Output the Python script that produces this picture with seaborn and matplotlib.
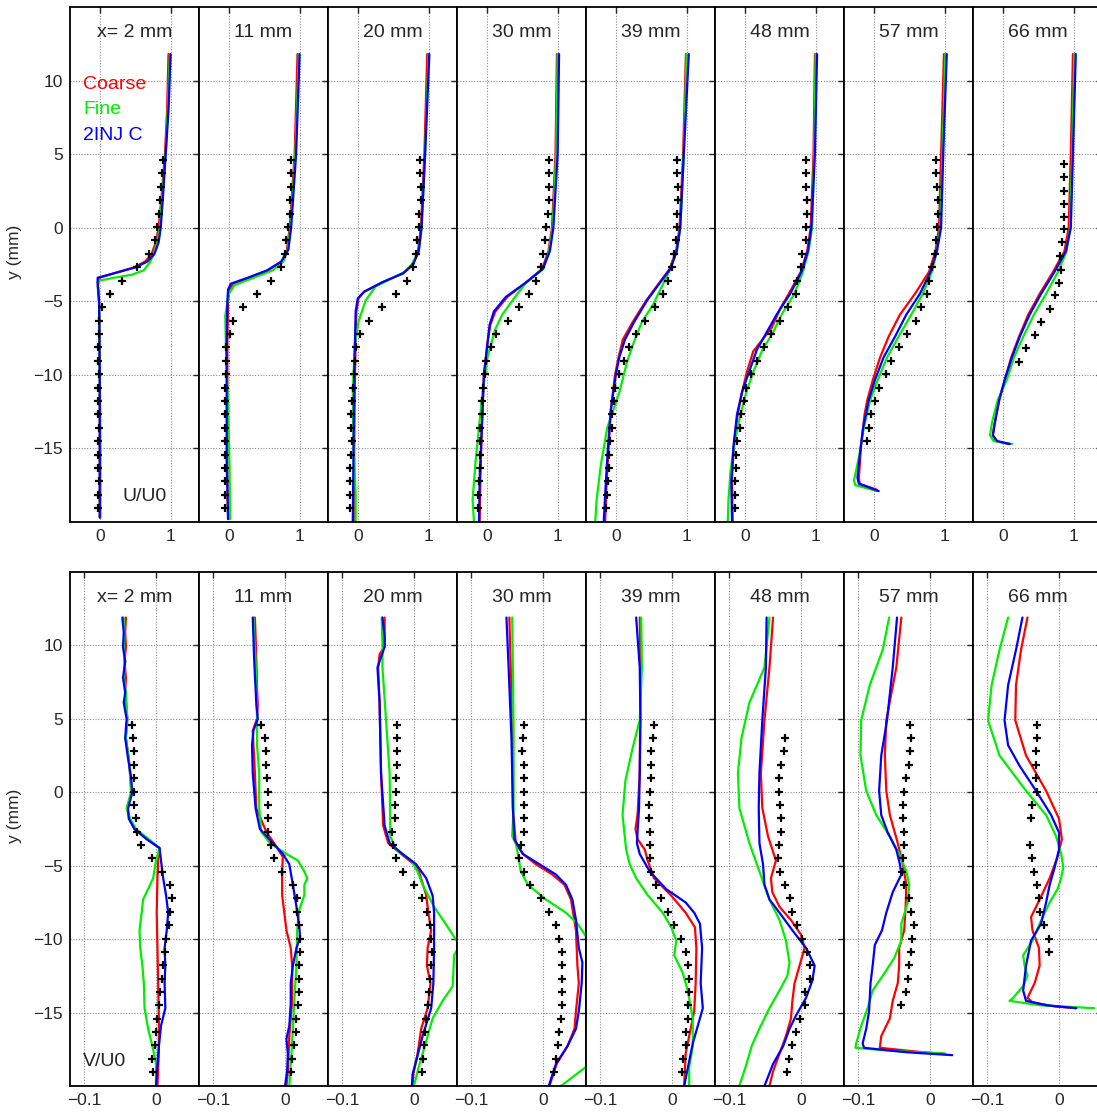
import matplotlib
matplotlib.use('Agg')
import matplotlib.pyplot as plt
import pandas as pd
import seaborn as sns

# Stations (panel titles)
TITLES = ['x= 2 mm', '11 mm', '20 mm', '30 mm', '39 mm', '48 mm', '57 mm', '66 mm']
MODELS = ['Coarse', 'Fine', '2INJ C']
COLORS = {'Coarse': '#ff0000', 'Fine': '#00ee00', '2INJ C': '#0000ff'}

Y_TICKS = [-15, -10, -5, 0, 5, 10]
Y_TICKLABELS = ['\u221215', '\u221210', '\u22125', '0', '5', '10']
U_TICKS = [0, 1]
U_TICKLABELS = ['0', '1']
V_TICKS = [-0.1, 0]
V_TICKLABELS = ['\u22120.1', '0']

# probe positions of the measurements (mm)
Y_PROBE = [4.6, 3.69, 2.78, 1.87, 0.96, 0.05, -0.86, -1.77, -2.68, -3.59, -4.5,
           -5.41, -6.32, -7.23, -8.14, -9.05, -9.96, -10.87, -11.78, -12.69,
           -13.6, -14.51, -15.42, -16.33, -17.24, -18.15, -19.06]
Y_PROBE_66U = [4.35, 3.45, 2.5, 1.6, 0.7, -0.1, -1.0, -1.95, -2.85, -3.75, -4.6,
               -5.5, -6.4, -7.3, -8.15, -9.1]
Y_PROBE_66V = [4.6, 3.69, 2.78, 1.87, 0.96, 0.05, -0.86, -1.77, -3.59, -4.5,
               -5.41, -6.32, -7.23, -8.14, -9.05, -9.96, -10.87]

# measured U/U0
U_EXP = [
    [0.89, 0.88, 0.87, 0.85, 0.84, 0.81, 0.78, 0.69, 0.53, 0.32, 0.14, 0.03, -0.01, -0.01,
     -0.02, -0.02, -0.01, -0.02, -0.02, -0.02, -0.01, -0.02, -0.02, -0.02, -0.01, -0.02, -0.02],
    [0.88, 0.88, 0.88, 0.87, 0.86, 0.84, 0.81, 0.79, 0.74, 0.60, 0.40, 0.20, 0.06, 0.02,
     -0.04, -0.04, -0.04, -0.05, -0.06, -0.05, -0.05, -0.05, -0.06, -0.05, -0.05, -0.05, -0.05],
    [0.88, 0.88, 0.89, 0.89, 0.86, 0.87, 0.84, 0.82, 0.78, 0.69, 0.54, 0.34, 0.16, 0.03,
     -0.02, -0.04, -0.06, -0.07, -0.08, -0.09, -0.10, -0.08, -0.10, -0.11, -0.11, -0.11, -0.11],
    [0.88, 0.88, 0.88, 0.88, 0.86, 0.84, 0.82, 0.80, 0.77, 0.70, 0.59, 0.46, 0.30, 0.13,
     0.06, -0.01, -0.03, -0.06, -0.07, -0.07, -0.09, -0.09, -0.10, -0.10, -0.11, -0.12, -0.13],
    [0.87, 0.87, 0.88, 0.88, 0.87, 0.87, 0.85, 0.82, 0.79, 0.74, 0.67, 0.56, 0.41, 0.28,
     0.19, 0.11, 0.05, -0.01, -0.03, -0.05, -0.06, -0.08, -0.09, -0.10, -0.11, -0.13, -0.14],
    [0.87, 0.87, 0.87, 0.88, 0.88, 0.87, 0.87, 0.81, 0.79, 0.74, 0.72, 0.61, 0.50, 0.37,
     0.27, 0.17, 0.09, 0.02, -0.01, -0.06, -0.07, -0.11, -0.12, -0.13, -0.14, -0.14, -0.14],
    [0.88, 0.88, 0.89, 0.90, 0.91, 0.89, 0.88, 0.86, 0.82, 0.78, 0.75, 0.67, 0.59, 0.47,
     0.36, 0.25, 0.17, 0.08, 0.02, -0.04, -0.07, -0.10],
    [0.86, 0.86, 0.86, 0.86, 0.86, 0.86, 0.84, 0.81, 0.82, 0.79, 0.74, 0.66, 0.54, 0.45,
     0.33, 0.23],
]
U_EXP_Y = [Y_PROBE] * 6 + [Y_PROBE[:22], Y_PROBE_66U]

# measured V/U0
V_EXP = [
    [-0.034, -0.032, -0.031, -0.031, -0.031, -0.030, -0.030, -0.028, -0.026, -0.021, -0.006,
     0.009, 0.020, 0.023, 0.020, 0.018, 0.014, 0.013, 0.010, 0.009, 0.006, 0.004, 0.002,
     0.000, -0.002, -0.005, -0.004],
    [-0.033, -0.028, -0.026, -0.026, -0.025, -0.024, -0.024, -0.024, -0.024, -0.020, -0.016,
     -0.004, 0.011, 0.017, 0.017, 0.019, 0.021, 0.021, 0.020, 0.019, 0.019, 0.018, 0.016,
     0.015, 0.012, 0.010, 0.009],
    [-0.024, -0.024, -0.024, -0.024, -0.025, -0.025, -0.026, -0.027, -0.031, -0.029, -0.025,
     -0.015, 0.000, 0.011, 0.018, 0.023, 0.024, 0.025, 0.024, 0.023, 0.021, 0.019, 0.017,
     0.016, 0.014, 0.012, 0.011],
    [-0.027, -0.028, -0.029, -0.027, -0.027, -0.027, -0.026, -0.027, -0.027, -0.031, -0.034,
     -0.027, -0.018, -0.003, 0.009, 0.018, 0.022, 0.026, 0.027, 0.027, 0.026, 0.026, 0.025,
     0.023, 0.021, 0.018, 0.016],
    [-0.025, -0.026, -0.029, -0.030, -0.030, -0.031, -0.032, -0.032, -0.031, -0.031, -0.031,
     -0.029, -0.023, -0.015, -0.006, 0.003, 0.013, 0.019, 0.023, 0.024, 0.024, 0.023, 0.022,
     0.019, 0.019, 0.016, 0.014],
    [-0.022, -0.024, -0.028, -0.031, -0.031, -0.030, -0.028, -0.028, -0.031, -0.032, -0.030,
     -0.023, -0.016, -0.012, -0.005, 0.002, 0.009, 0.012, 0.012, 0.006, 0.005, -0.002,
     -0.007, -0.012, -0.017, -0.020],
    [-0.028, -0.027, -0.028, -0.030, -0.033, -0.036, -0.037, -0.037, -0.036, -0.036, -0.037,
     -0.039, -0.036, -0.030, -0.026, -0.023, -0.025, -0.026, -0.029, -0.031, -0.034, -0.040],
    [-0.031, -0.031, -0.032, -0.032, -0.032, -0.031, -0.037, -0.039, -0.040, -0.037, -0.035,
     -0.031, -0.028, -0.026, -0.021, -0.014, -0.014],
]
V_EXP_Y = [Y_PROBE] * 5 + [Y_PROBE[1:], Y_PROBE[:22], Y_PROBE_66V]

# simulated U/U0 profiles, (y, U/U0)
U_COARSE = [
    [(11.8, 0.97), (8, 0.95), (5, 0.92), (2, 0.87), (0, 0.83), (-1, 0.79), (-1.8, 0.73), (-2.3, 0.64),
     (-2.7, 0.48), (-3.1, 0.2), (-3.4, 0.0), (-3.7, -0.03), (-5, -0.01), (-10, 0.0), (-15, 0.0), (-19.7, 0.0)],
    [(11.8, 0.97), (5, 0.93), (0, 0.86), (-1.5, 0.82), (-2.3, 0.75), (-2.9, 0.55), (-3.4, 0.28), (-3.8, 0.06),
     (-4.2, 0.01), (-5, -0.01), (-8, -0.02), (-12, -0.02), (-16, -0.02), (-19.8, -0.01)],
    [(11.8, 0.98), (5, 0.94), (0, 0.89), (-1.6, 0.85), (-2.5, 0.78), (-3.1, 0.64), (-3.7, 0.35), (-4.35, 0.09),
     (-4.8, 0.01), (-5.7, -0.02), (-10, -0.04), (-15, -0.05), (-20, -0.05)],
    [(11.8, 0.99), (5, 0.97), (0, 0.92), (-1.6, 0.87), (-2.8, 0.78), (-3.7, 0.56), (-4.7, 0.29), (-5.7, 0.12),
     (-6.6, 0.05), (-7.85, 0.01), (-10, -0.04), (-13.6, -0.07), (-17, -0.09), (-20, -0.1)],
    [(11.8, 0.99), (5, 0.95), (0, 0.9), (-1.6, 0.85), (-2.8, 0.76), (-3.7, 0.62), (-4.95, 0.43), (-6.4, 0.24),
     (-7.6, 0.1), (-8.8, 0.04), (-10, -0.01), (-12.4, -0.07), (-14.9, -0.1), (-17.3, -0.13), (-20, -0.15)],
    [(11.8, 0.99), (5, 0.97), (0, 0.93), (-1.6, 0.88), (-3.0, 0.79), (-4.5, 0.62), (-5.5, 0.5), (-6.8, 0.38),
     (-7.6, 0.25), (-8.4, 0.12), (-9.8, 0.03), (-11.2, -0.04), (-12.7, -0.1), (-14.5, -0.15), (-17, -0.18),
     (-20, -0.17)],
    [(11.8, 0.99), (5, 0.95), (0, 0.92), (-1.6, 0.87), (-3.0, 0.78), (-4.5, 0.58), (-5.9, 0.37), (-7.4, 0.21),
     (-8.8, 0.09), (-10.3, -0.01), (-11.7, -0.09), (-12.7, -0.13), (-14.8, -0.18), (-17.0, -0.21),
     (-17.4, -0.2), (-17.8, 0.04)],
    [(11.8, 0.99), (5, 0.96), (0, 0.93), (-1.6, 0.87), (-3.0, 0.71), (-4.5, 0.52), (-5.9, 0.36), (-7.4, 0.23),
     (-8.8, 0.12), (-10.3, 0.03), (-11.7, -0.05), (-13.2, -0.11), (-14.1, -0.14), (-14.5, -0.09), (-14.7, 0.08)],
]
U_FINE = [
    [(11.8, 0.99), (8, 0.96), (5, 0.93), (2, 0.88), (0, 0.85), (-1, 0.81), (-1.8, 0.76), (-2.4, 0.7),
     (-2.9, 0.62), (-3.2, 0.45), (-3.4, 0.2), (-3.6, -0.01), (-4, -0.03), (-5, -0.01), (-10, 0.0),
     (-15, 0.01), (-19.7, 0.01)],
    [(11.8, 0.99), (5, 0.94), (0, 0.87), (-1.5, 0.83), (-2.3, 0.77), (-2.9, 0.62), (-3.4, 0.35), (-3.9, 0.08),
     (-4.5, 0.0), (-6, -0.05), (-8, -0.04), (-12, -0.01), (-16, 0.01), (-19.8, 0.02)],
    [(11.8, 1.0), (5, 0.95), (0, 0.9), (-1.6, 0.86), (-2.5, 0.76), (-3.0, 0.66), (-4.0, 0.25), (-4.95, 0.11),
     (-6.4, 0.01), (-7.85, -0.04), (-11, -0.07), (-15, -0.06), (-18, -0.03), (-20, -0.03)],
    [(11.8, 1.0), (5, 0.98), (0, 0.93), (-1.6, 0.88), (-2.8, 0.8), (-3.7, 0.56), (-4.7, 0.4), (-5.9, 0.22),
     (-6.9, 0.12), (-8.8, 0.01), (-11.2, -0.06), (-13.6, -0.11), (-16, -0.16), (-18.5, -0.2), (-20, -0.18)],
    [(11.8, 1.0), (5, 0.96), (0, 0.91), (-1.6, 0.86), (-2.8, 0.77), (-4.0, 0.65), (-5.2, 0.53), (-6.4, 0.37),
     (-7.85, 0.25), (-9.1, 0.16), (-11.2, 0.05), (-13.6, -0.12), (-16.1, -0.21), (-18.5, -0.27), (-20, -0.29)],
    [(11.8, 1.0), (5, 0.98), (0, 0.95), (-1.6, 0.9), (-3.0, 0.82), (-4.5, 0.7), (-5.9, 0.52), (-7.1, 0.4),
     (-8.3, 0.25), (-9.8, 0.12), (-11.2, 0.02), (-12.7, -0.06), (-14.5, -0.14), (-16.5, -0.2), (-18.5, -0.23),
     (-20, -0.24)],
    [(11.8, 1.01), (5, 0.97), (0, 0.94), (-1.6, 0.89), (-3.0, 0.82), (-4.5, 0.69), (-5.9, 0.53), (-7.4, 0.35),
     (-8.8, 0.19), (-10.3, 0.06), (-11.7, -0.05), (-13.6, -0.14), (-15.6, -0.21), (-17.2, -0.28),
     (-17.5, -0.26), (-17.9, 0.05)],
    [(11.8, 1.01), (5, 0.98), (0, 0.95), (-1.6, 0.9), (-3.0, 0.78), (-4.5, 0.61), (-5.9, 0.44), (-7.4, 0.29),
     (-8.8, 0.16), (-10.3, 0.06), (-11.7, -0.07), (-13.2, -0.15), (-14.1, -0.18), (-14.5, -0.13), (-14.7, 0.13)],
]
U_2INJ = [
    [(11.8, 1.0), (8, 0.97), (5, 0.93), (2, 0.89), (0, 0.86), (-1, 0.83), (-1.8, 0.77), (-2.3, 0.67),
     (-2.7, 0.5), (-3.1, 0.2), (-3.4, -0.03), (-3.7, -0.03), (-5, -0.01), (-10, 0.0), (-15, 0.0), (-19.7, 0.0)],
    [(11.8, 1.0), (5, 0.95), (0, 0.88), (-1.5, 0.84), (-2.3, 0.74), (-2.9, 0.54), (-3.4, 0.27), (-3.8, 0.03),
     (-4.2, -0.01), (-5, -0.02), (-8, -0.03), (-12, -0.03), (-16, -0.03), (-19.8, -0.01)],
    [(11.8, 1.01), (5, 0.95), (0, 0.9), (-1.6, 0.86), (-2.5, 0.78), (-3.1, 0.64), (-3.7, 0.35), (-4.35, 0.09),
     (-4.8, 0.0), (-5.7, -0.03), (-10, -0.05), (-15, -0.06), (-20, -0.07)],
    [(11.8, 1.02), (5, 1.0), (0, 0.94), (-1.6, 0.89), (-2.8, 0.79), (-3.7, 0.56), (-4.7, 0.27), (-5.7, 0.1),
     (-6.6, 0.04), (-7.85, 0.01), (-10, -0.04), (-13.6, -0.07), (-17, -0.1), (-20, -0.11)],
    [(11.8, 1.03), (5, 0.96), (0, 0.91), (-1.6, 0.86), (-2.8, 0.77), (-3.7, 0.63), (-4.95, 0.44), (-6.4, 0.26),
     (-7.6, 0.13), (-8.8, 0.05), (-10, 0.0), (-12.4, -0.07), (-14.9, -0.11), (-17.3, -0.14), (-20, -0.17)],
    [(11.8, 1.02), (5, 0.99), (0, 0.94), (-1.6, 0.89), (-3.0, 0.8), (-4.5, 0.64), (-5.9, 0.45), (-7.1, 0.31),
     (-8.3, 0.17), (-9.8, 0.06), (-11.2, -0.04), (-12.7, -0.11), (-14.9, -0.16), (-17.3, -0.19), (-20, -0.18)],
    [(11.8, 1.03), (5, 0.98), (0, 0.95), (-1.6, 0.89), (-3.0, 0.8), (-4.5, 0.65), (-5.9, 0.46), (-7.4, 0.3),
     (-8.8, 0.14), (-10.3, 0.02), (-11.7, -0.07), (-13.6, -0.15), (-15.6, -0.2), (-17.0, -0.23),
     (-17.4, -0.21), (-17.9, 0.07)],
    [(11.8, 1.03), (5, 0.99), (0, 0.96), (-1.6, 0.89), (-3.0, 0.73), (-4.5, 0.54), (-5.9, 0.38), (-7.4, 0.24),
     (-8.8, 0.13), (-10.3, 0.03), (-11.7, -0.05), (-13.2, -0.11), (-14.1, -0.14), (-14.5, -0.08), (-14.7, 0.1)],
]

# simulated V/U0 profiles, (y, V/U0)
V_COARSE = [
    [(11.9, -0.042), (10.9, -0.043), (9.9, -0.042), (8.9, -0.044), (7.8, -0.042), (6.8, -0.043), (5.0, -0.040),
     (3.7, -0.042), (2.3, -0.038), (1.1, -0.036), (0.0, -0.034), (-1.1, -0.040), (-1.8, -0.037), (-2.5, -0.03),
     (-3.2, -0.012), (-3.8, 0.005), (-4.65, 0.003), (-5.85, 0.002), (-8.2, 0.001), (-10.6, 0.002),
     (-13.0, 0.003), (-15.4, 0.004), (-17.8, 0.004), (-20, 0.002)],
    [(11.9, -0.042), (10.5, -0.041), (9, -0.040), (7, -0.039), (6, -0.038), (5, -0.039), (4.2, -0.045),
     (3.2, -0.044), (1.3, -0.042), (-1.1, -0.040), (-2.7, -0.026), (-3.7, -0.012), (-4.4, -0.003),
     (-5.4, -0.004), (-7.0, -0.004), (-9.4, 0.002), (-10.6, 0.008), (-11.8, 0.010), (-14.2, 0.01),
     (-16.6, 0.006), (-19.0, 0.004), (-20, 0.002)],
    [(11.9, -0.041), (9.9, -0.041), (9.4, -0.048), (8.5, -0.050), (6.1, -0.048), (1.3, -0.046), (-2.27, -0.043),
     (-3.46, -0.036), (-4.2, -0.018), (-4.9, 0.0), (-5.4, 0.007), (-7.0, 0.017), (-8.2, 0.02), (-9.4, 0.024),
     (-10.6, 0.019), (-11.8, 0.018), (-13, 0.023), (-14.7, 0.019), (-16.1, 0.01), (-17.8, 0.005),
     (-19.2, -0.001), (-20, -0.002)],
    [(11.9, -0.047), (8.5, -0.045), (3.7, -0.043), (-1.07, -0.042), (-3.46, -0.038), (-4.2, -0.028),
     (-4.9, -0.01), (-5.6, 0.013), (-6.3, 0.03), (-7.3, 0.039), (-9.4, 0.046), (-11.8, 0.048), (-13, 0.05),
     (-14.9, 0.046), (-16.1, 0.044), (-17.3, 0.034), (-18.5, 0.019), (-20, 0.009)],
    [(11.9, -0.045), (8.5, -0.044), (1.3, -0.045), (-1.5, -0.048), (-2.5, -0.051), (-3.2, -0.048),
     (-3.9, -0.038), (-4.65, -0.034), (-5.85, -0.025), (-7.04, -0.001), (-8.2, 0.019), (-9.2, 0.032),
     (-10.6, 0.034), (-13, 0.033), (-14.9, 0.031), (-16.1, 0.026), (-17.8, 0.019), (-20, 0.017)],
    [(11.9, -0.039), (8.5, -0.044), (4.9, -0.051), (1.3, -0.056), (-1.07, -0.054), (-3.0, -0.046),
     (-4.65, -0.035), (-5.85, -0.042), (-6.8, -0.04), (-7.8, -0.03), (-8.7, -0.014), (-9.7, 0.0),
     (-10.6, 0.005), (-11.8, -0.002), (-13.0, -0.009), (-14.2, -0.012), (-15.4, -0.014), (-16.6, -0.021),
     (-17.8, -0.03), (-19.0, -0.039), (-20, -0.044)],
    [(11.9, -0.04), (8.5, -0.047), (4.9, -0.061), (2.5, -0.063), (0.1, -0.061), (-1.55, -0.056),
     (-3.46, -0.045), (-4.9, -0.038), (-6.3, -0.033), (-7.8, -0.034), (-9.4, -0.036), (-10.6, -0.043),
     (-11.8, -0.043), (-13.0, -0.045), (-14.2, -0.052), (-15.4, -0.056), (-16.6, -0.068), (-17.4, -0.07),
     (-17.7, -0.01), (-17.8, 0.02)],
    [(11.9, -0.044), (9.7, -0.053), (7.3, -0.06), (4.9, -0.061), (2.5, -0.046), (0.1, -0.018), (-1.8, 0.0),
     (-3.2, 0.004), (-4.4, -0.002), (-5.85, -0.013), (-7.3, -0.027), (-8.5, -0.039), (-9.4, -0.037),
     (-10.6, -0.028), (-11.8, -0.027), (-13.0, -0.034), (-14.0, -0.044), (-14.3, -0.037), (-14.6, -0.004),
     (-14.7, 0.024)],
]
V_FINE = [
    [(11.9, -0.045), (10.9, -0.044), (9.9, -0.045), (8.9, -0.043), (7.8, -0.045), (6.8, -0.042), (5.0, -0.040),
     (3.7, -0.042), (2.3, -0.038), (1.1, -0.036), (0.0, -0.035), (-1.1, -0.041), (-1.8, -0.036), (-2.5, -0.028),
     (-3.2, -0.01), (-3.8, 0.005), (-4.65, 0.0), (-5.85, -0.004), (-6.7, -0.012), (-7.3, -0.018),
     (-8.2, -0.02), (-9.4, -0.023), (-10.6, -0.022), (-11.8, -0.019), (-13.0, -0.017), (-14.7, -0.016),
     (-16.1, -0.011), (-17.5, -0.004), (-18.5, 0.0), (-20, 0.0)],
    [(11.9, -0.044), (10.5, -0.043), (9, -0.041), (7, -0.040), (5, -0.039), (3.2, -0.039), (1.3, -0.036),
     (-1.1, -0.036), (-2.7, -0.033), (-3.46, -0.021), (-4.2, 0.002), (-4.65, 0.018), (-5.4, 0.027),
     (-5.85, 0.031), (-6.3, 0.027), (-7.0, 0.027), (-8.0, 0.02), (-9.4, 0.017), (-11.8, 0.016),
     (-14.2, 0.013), (-16.1, 0.011), (-17.8, 0.009), (-20, 0.006)],
    [(11.9, -0.045), (9.9, -0.044), (8.5, -0.044), (4.9, -0.039), (1.3, -0.034), (-3.0, -0.033),
     (-3.9, -0.025), (-4.65, -0.004), (-5.4, 0.005), (-6.3, 0.012), (-7.8, 0.028), (-8.95, 0.044),
     (-10.0, 0.058), (-10.4, 0.064), (-11.1, 0.056), (-13.2, 0.054), (-14.2, 0.04), (-15.4, 0.026),
     (-16.6, 0.019), (-17.8, 0.012), (-19.0, 0.005), (-20, 0.0)],
    [(11.9, -0.043), (8.5, -0.042), (3.7, -0.041), (-1.07, -0.041), (-3.0, -0.043), (-3.46, -0.038),
     (-4.2, -0.035), (-5.4, -0.031), (-6.3, -0.021), (-7.3, 0.004), (-8.2, 0.032), (-8.95, 0.048),
     (-9.8, 0.06), (-10.5, 0.068), (-18.0, 0.068), (-18.7, 0.06), (-20, 0.025)],
    [(11.9, -0.043), (8.5, -0.042), (4.9, -0.045), (3.0, -0.055), (0.8, -0.065), (-1.55, -0.069),
     (-3.9, -0.064), (-4.9, -0.059), (-5.85, -0.05), (-7.0, -0.034), (-8.2, -0.013), (-9.2, -0.001),
     (-10.1, 0.006), (-11.1, 0.003), (-12.3, 0.015), (-13.5, 0.022), (-15.4, 0.029), (-17.3, 0.029),
     (-18.7, 0.024), (-20, 0.024)],
    [(11.9, -0.044), (8.5, -0.051), (6.1, -0.072), (3.7, -0.083), (1.3, -0.088), (-1.07, -0.086),
     (-3.46, -0.072), (-5.4, -0.058), (-7.3, -0.044), (-8.7, -0.03), (-10.1, -0.021), (-11.6, -0.016),
     (-12.5, -0.019), (-13.5, -0.03), (-14.7, -0.044), (-16.1, -0.058), (-17.3, -0.069), (-18.5, -0.076),
     (-20, -0.086)],
    [(11.9, -0.057), (9.7, -0.066), (7.3, -0.084), (4.9, -0.096), (2.5, -0.097), (0.1, -0.089),
     (-1.55, -0.075), (-3.0, -0.056), (-4.2, -0.043), (-5.4, -0.033), (-6.3, -0.029), (-7.5, -0.031),
     (-8.95, -0.04), (-10.1, -0.04), (-11.3, -0.05), (-12.5, -0.066), (-13.5, -0.08), (-14.7, -0.087),
     (-15.9, -0.096), (-17.1, -0.103), (-17.4, -0.104), (-17.6, -0.056), (-17.8, 0.022)],
    [(11.9, -0.071), (9.7, -0.083), (7.3, -0.094), (4.9, -0.099), (2.5, -0.083), (0.1, -0.046),
     (-1.55, -0.018), (-3.0, -0.004), (-4.2, 0.003), (-5.1, 0.006), (-5.85, 0.003), (-6.6, -0.002),
     (-7.5, -0.013), (-8.95, -0.027), (-10.1, -0.037), (-11.1, -0.05), (-11.8, -0.048), (-12.5, -0.044),
     (-13.2, -0.05), (-14.0, -0.064), (-14.2, -0.069), (-14.5, -0.027), (-14.7, 0.049)],
]
V_2INJ = [
    [(11.9, -0.047), (10.9, -0.045), (9.9, -0.046), (8.9, -0.043), (7.8, -0.046), (6.8, -0.043), (6.1, -0.045),
     (5.0, -0.041), (3.7, -0.043), (2.3, -0.039), (1.1, -0.035), (0.0, -0.033), (-1.1, -0.039), (-1.8, -0.038),
     (-2.5, -0.03), (-3.2, -0.013), (-3.8, 0.005), (-4.65, 0.007), (-5.85, 0.01), (-7.0, 0.014),
     (-8.2, 0.017), (-9.4, 0.015), (-10.6, 0.012), (-11.8, 0.013), (-13.0, 0.012), (-14.7, 0.013),
     (-15.9, 0.007), (-17.8, 0.003), (-20, 0.0)],
    [(11.9, -0.045), (10.5, -0.044), (9, -0.043), (7, -0.041), (6, -0.040), (5, -0.038), (4.2, -0.044),
     (3.2, -0.046), (1.3, -0.045), (-1.1, -0.041), (-2.5, -0.035), (-3.46, -0.017), (-4.2, -0.003),
     (-4.9, 0.006), (-6.3, 0.011), (-7.8, 0.016), (-9.2, 0.02), (-9.9, 0.021), (-10.6, 0.016),
     (-11.8, 0.011), (-13.0, 0.008), (-14.4, 0.008), (-15.9, 0.006), (-16.8, 0.002), (-17.8, 0.004),
     (-19.0, 0.003), (-20, 0.0)],
    [(11.9, -0.044), (10.6, -0.041), (9.9, -0.041), (9.2, -0.046), (8.5, -0.051), (6.1, -0.048),
     (1.3, -0.046), (-2.27, -0.041), (-3.46, -0.034), (-4.2, -0.016), (-4.9, 0.003), (-5.85, 0.017),
     (-7.04, 0.026), (-8.2, 0.028), (-10.6, 0.028), (-13, 0.027), (-14.7, 0.024), (-16.6, 0.012),
     (-18.3, 0.003), (-19.2, -0.002), (-20, -0.003)],
    [(11.9, -0.051), (8.5, -0.048), (3.7, -0.044), (-1.07, -0.042), (-3.2, -0.04), (-4.2, -0.028),
     (-4.9, -0.005), (-5.6, 0.018), (-6.3, 0.032), (-7.3, 0.041), (-8.7, 0.046), (-10.6, 0.05),
     (-11.6, 0.055), (-13, 0.054), (-14.9, 0.05), (-16.1, 0.046), (-17.3, 0.034), (-18.5, 0.018),
     (-20, 0.008)],
    [(11.9, -0.05), (8.5, -0.045), (4.9, -0.044), (1.3, -0.045), (-1.07, -0.046), (-3.46, -0.049),
     (-4.2, -0.045), (-5.4, -0.031), (-6.6, -0.008), (-7.5, 0.019), (-8.2, 0.031), (-8.95, 0.039),
     (-10.6, 0.042), (-13, 0.04), (-14.7, 0.043), (-15.9, 0.036), (-17.1, 0.029), (-18.3, 0.024),
     (-20, 0.017)],
    [(11.9, -0.048), (8.5, -0.049), (4.9, -0.054), (1.3, -0.058), (-1.07, -0.059), (-3.46, -0.058),
     (-4.9, -0.053), (-6.3, -0.051), (-7.3, -0.044), (-8.2, -0.03), (-9.4, -0.012), (-10.6, 0.007),
     (-11.8, 0.019), (-12.8, 0.016), (-14.0, 0.007), (-15.2, -0.007), (-16.1, -0.016), (-17.3, -0.025),
     (-18.5, -0.039), (-20, -0.051)],
    [(11.9, -0.046), (8.5, -0.052), (4.9, -0.06), (2.5, -0.068), (0.1, -0.071), (-1.55, -0.068),
     (-2.74, -0.059), (-3.9, -0.047), (-4.9, -0.042), (-5.6, -0.04), (-6.8, -0.052), (-8.2, -0.061),
     (-9.4, -0.067), (-10.4, -0.077), (-11.8, -0.08), (-13.0, -0.083), (-14.9, -0.085), (-16.1, -0.089),
     (-17.1, -0.094), (-17.4, -0.092), (-17.7, -0.033), (-17.9, 0.031)],
    [(11.9, -0.051), (9.7, -0.06), (7.3, -0.071), (4.9, -0.076), (3.2, -0.071), (1.8, -0.055), (0.1, -0.032),
     (-1.55, -0.011), (-2.74, 0.0), (-3.9, 0.0), (-5.1, -0.006), (-6.3, -0.013), (-7.5, -0.018),
     (-8.95, -0.025), (-10.1, -0.039), (-11.8, -0.046), (-13.5, -0.05), (-14.2, -0.046), (-14.5, -0.018),
     (-14.7, 0.024)],
]


def curves_frame(panel, coarse, fine, inj):
    rows = []
    for model, series in zip(MODELS, (coarse, fine, inj)):
        for k, (y, val) in enumerate(series[panel]):
            rows.append({'model': model, 'order': k, 'y': y, 'val': val})
    return pd.DataFrame(rows)


sns.set_style('white')
plt.rcParams['font.family'] = ['Liberation Sans', 'DejaVu Sans']

W, H = 1097, 1113
fig = plt.figure(figsize=(W / 100, H / 100), dpi=100)

rows_cfg = [
    # top px, bottom px, sim data, exp data, exp y, xlim, ticks, ticklabels, tag, tag pos
    (7, 522, (U_COARSE, U_FINE, U_2INJ), U_EXP, U_EXP_Y, (-0.42, 1.4), U_TICKS, U_TICKLABELS,
     'U/U0', (0.576, 0.049)),
    (572, 1086, (V_COARSE, V_FINE, V_2INJ), V_EXP, V_EXP_Y, (-0.12, 0.06), V_TICKS, V_TICKLABELS,
     'V/U0', (0.271, 0.047)),
]

for top, bot, sims, exp, exp_y, xlim, xt, xtl, tag, tagpos in rows_cfg:
    for i in range(8):
        left = 70 + 129 * i
        ax = fig.add_axes([left / W, 1 - bot / H, 129 / W, (bot - top) / H])
        df = curves_frame(i, *sims)
        sns.lineplot(data=df, x='val', y='y', hue='model', units='model', estimator=None,
                     sort=False, palette=COLORS, hue_order=MODELS, linewidth=1.6,
                     legend=False, ax=ax)
        dexp = pd.DataFrame({'val': exp[i], 'y': exp_y[i]})
        sns.scatterplot(data=dexp, x='val', y='y', marker='+', color='black', s=34,
                        linewidth=1.6, ax=ax, zorder=5)
        ax.set_xlim(*xlim)
        ax.set_ylim(-20, 15)
        ax.set_xticks(xt)
        ax.set_xticklabels(xtl)
        ax.set_yticks(Y_TICKS)
        ax.set_yticklabels(Y_TICKLABELS)
        ax.grid(True, linestyle=(0, (1, 1.5)), color='#8c8c8c', linewidth=0.8)
        ax.set_axisbelow(True)
        ax.tick_params(direction='in', length=4, width=1, top=True, right=True,
                       labelsize=12.5, pad=5, labelleft=(i == 0))
        for sp in ax.spines.values():
            sp.set_linewidth(1.3)
            sp.set_color('black')
        ax.set_xlabel('')
        if i == 0:
            ax.set_ylabel('y (mm)', fontsize=12.5)
            ax.yaxis.set_label_coords(-0.37, 0.525)
            ax.text(tagpos[0], tagpos[1], tag, transform=ax.transAxes, ha='center',
                    va='center', fontsize=14)
        else:
            ax.set_ylabel('')
        ax.text(0.5, 0.951, TITLES[i], transform=ax.transAxes, ha='center', va='center',
                fontsize=14)
        if top == 7 and i == 0:
            for k, model in enumerate(MODELS):
                ax.text(0.103, 0.85 - 0.05 * k, model, color=COLORS[model],
                        transform=ax.transAxes, ha='left', va='center', fontsize=14)

fig.savefig('out.png', dpi=100)
